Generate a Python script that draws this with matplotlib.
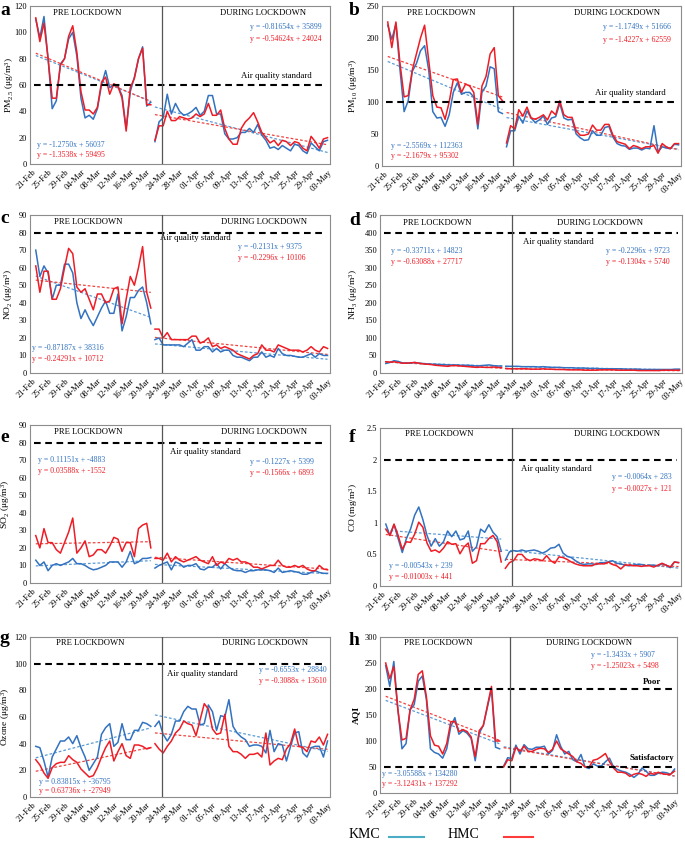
import numpy as np
import matplotlib
matplotlib.use("Agg")
import matplotlib.pyplot as plt
from matplotlib.lines import Line2D
from matplotlib.ticker import FuncFormatter

plt.rcParams['font.family'] = ['Liberation Serif', 'DejaVu Serif']
plt.rcParams['mathtext.fontset'] = 'custom'
plt.rcParams['mathtext.rm'] = 'Liberation Serif'
plt.rcParams['mathtext.it'] = 'Liberation Serif:italic'

# ---------------- data ----------------
tick_labels = ['21-Feb', '25-Feb', '29-Feb', '04-Mar', '08-Mar', '12-Mar', '16-Mar',
               '20-Mar', '24-Mar', '28-Mar', '01-Apr', '05-Apr', '09-Apr', '13-Apr',
               '17-Apr', '21-Apr', '25-Apr', '29-Apr', '03-May']
pre_days = np.arange(1, 30)     # 22-Feb .. 21-Mar (days after 21-Feb)
dur_days = np.arange(30, 73)    # 22-Mar .. 03-May

pm25_kmc_pre = [110, 96, 112, 80, 42, 48, 76, 80, 95, 100, 82, 50, 35, 37, 34, 42, 60, 71, 58, 60,
                59, 52, 27, 55, 66, 80, 89, 44, 47]
pm25_hmc_pre = [111, 93, 107, 80, 50, 50, 75, 80, 97, 105, 85, 55, 41, 41, 38, 43, 62, 66, 53, 61,
                59, 50, 25, 58, 65, 80, 88, 45, 45]
pm25_kmc_dur = [17, 32, 35, 53, 38, 46, 40, 37, 38, 40, 43, 37, 40, 52, 52, 38, 38, 23, 19, 19,
                20, 24, 24, 27, 24, 30, 22, 18, 12, 13, 11, 14, 12, 10, 15, 14, 10, 8, 16, 13,
                10, 17, 18]
pm25_hmc_dur = [18, 29, 29, 40, 33, 33, 36, 35, 34, 35, 38, 36, 38, 46, 37, 37, 41, 27, 19, 15,
                15, 27, 32, 35, 39, 32, 24, 20, 16, 18, 14, 18, 17, 14, 17, 16, 12, 10, 21, 17,
                12, 19, 20]

pm10_kmc_pre = [220, 198, 222, 150, 85, 102, 148, 160, 180, 188, 150, 85, 75, 76, 62, 80, 115, 130,
                112, 115, 115, 108, 58, 115, 125, 155, 152, 85, 82]
pm10_hmc_pre = [225, 185, 225, 160, 108, 110, 150, 175, 200, 220, 165, 110, 92, 91, 73, 100, 135,
                136, 115, 128, 125, 115, 65, 125, 140, 175, 185, 110, 102]
pm10_kmc_dur = [30, 55, 55, 78, 67, 86, 75, 68, 72, 78, 65, 75, 77, 98, 75, 72, 73, 50, 44, 40,
                41, 55, 48, 48, 60, 62, 45, 35, 32, 31, 26, 28, 28, 25, 28, 27, 63, 22, 30, 28,
                27, 34, 33]
pm10_hmc_dur = [36, 63, 58, 88, 78, 92, 75, 73, 76, 80, 72, 86, 80, 102, 80, 76, 76, 55, 48, 48,
                50, 64, 56, 56, 65, 65, 48, 38, 36, 34, 27, 32, 30, 27, 30, 30, 32, 20, 35, 30,
                27, 35, 35]

no2_kmc_pre = [70, 55, 61, 57, 42, 50, 50, 62, 62, 57, 40, 31, 36, 31, 27, 32, 37, 41, 34, 34,
               45, 24, 32, 43, 43, 47, 49, 40, 28]
no2_hmc_pre = [61, 46, 58, 58, 42, 42, 48, 60, 71, 68, 49, 46, 48, 42, 36, 45, 45, 40, 41, 48,
               49, 28, 42, 55, 50, 60, 72, 46, 37]
no2_kmc_dur = [19, 20, 16, 16, 16, 16, 16, 15, 17, 19, 13, 13, 15, 15, 12, 14, 12, 13, 13, 10,
               9, 9, 8, 7, 9, 9, 12, 9, 10, 9, 14, 11, 10, 10, 9.5, 9, 9, 10, 11, 9,
               11, 10, 10]
no2_hmc_dur = [25, 25, 20, 23, 19, 19, 19, 19, 19, 21, 21, 17, 18, 20, 15, 16, 14, 15, 14, 13,
               11, 10, 9, 8, 10, 11, 16, 13, 13, 12, 16, 15, 14, 13, 13, 13, 12, 13, 15, 13,
               12, 15, 14]

nh3_kmc_pre = [27, 30, 35, 33, 29, 28, 28, 30, 28, 27, 26, 25, 25, 24, 24, 23, 23, 23, 22, 22,
               22, 21, 20, 21, 22, 23, 21, 20, 20]
nh3_hmc_pre = [32, 31, 32, 30, 28, 28, 29, 30, 28, 26, 25, 24, 22, 21, 20, 19, 21, 21, 20, 19,
               18, 17, 16, 17, 16, 16, 17, 16, 15]
nh3_kmc_dur = [19, 19, 19, 19, 18, 18, 18, 18, 17, 18, 17, 16, 16, 16, 15, 15, 15, 14, 14, 14,
               13, 13, 13, 12, 12, 12, 12, 12, 12, 11, 11, 11, 11, 10, 10, 10, 10, 10, 10, 10,
               10, 11, 11]
nh3_hmc_dur = [13, 12, 12, 12, 12, 12, 11, 11, 11, 12, 11, 11, 10, 10, 10, 9, 9, 9, 9, 8,
               8, 8, 8, 9, 9, 9, 9, 8, 8, 8, 8, 8, 7, 7, 7, 7, 7, 7, 8, 8,
               8, 8, 8]

so2_kmc_pre = [13, 10, 12, 7, 10, 11, 10, 11, 12, 14, 11, 11, 10, 8.5, 7.5, 8, 9, 10, 12, 12,
               12, 9, 12, 18, 11, 12, 14, 14, 14.5]
so2_hmc_pre = [27, 20, 31, 23, 23, 19, 17, 23, 29, 37, 17, 20, 24, 15, 16, 19, 19, 17, 21, 26,
               25, 18, 23, 23, 15, 31, 33, 34, 20]
so2_kmc_dur = [8.5, 10, 11, 12, 7.5, 12, 11, 9, 10, 10, 11, 8, 7.5, 9, 9, 11, 8, 11, 9, 7.5,
               7, 7, 6, 7, 7, 7.5, 7.5, 7.5, 7, 6, 8.5, 6, 6.5, 7, 6.5, 6, 5, 5, 6, 7,
               6, 5.5, 5.5]
so2_hmc_dur = [14, 14, 13, 17, 12, 15, 13, 12, 13, 14, 15, 13, 12, 11, 15, 10, 12, 11, 14, 13,
               14, 12, 12, 11, 9, 9, 8, 9, 10, 10, 13, 10, 9, 9, 10, 9, 10, 8, 7, 7,
               10, 8, 7.5]

co_kmc_pre = [0.98, 0.80, 0.97, 0.75, 0.53, 0.75, 0.90, 1.12, 1.25, 1.05, 0.80, 0.63, 0.75, 0.63,
              0.70, 0.87, 0.78, 0.87, 0.73, 0.75, 0.87, 0.55, 0.62, 0.90, 0.85, 0.97, 0.85, 0.78, 0.55]
co_hmc_pre = [0.90, 0.80, 0.98, 0.80, 0.58, 0.70, 0.69, 0.82, 1.01, 0.93, 0.68, 0.55, 0.57, 0.53,
              0.60, 0.70, 0.66, 0.67, 0.51, 0.62, 0.68, 0.36, 0.40, 0.67, 0.67, 0.75, 0.80, 0.70, 0.38]
co_kmc_dur = [0.41, 0.54, 0.56, 0.55, 0.57, 0.55, 0.56, 0.57, 0.55, 0.52, 0.55, 0.60, 0.61, 0.66,
              0.52, 0.47, 0.45, 0.40, 0.36, 0.34, 0.35, 0.35, 0.34, 0.37, 0.37, 0.38, 0.40, 0.36,
              0.35, 0.33, 0.32, 0.33, 0.34, 0.34, 0.32, 0.33, 0.33, 0.32, 0.35, 0.33, 0.29, 0.38, 0.37]
co_hmc_dur = [0.28, 0.37, 0.40, 0.50, 0.50, 0.43, 0.40, 0.43, 0.42, 0.40, 0.48, 0.40, 0.36, 0.46,
              0.45, 0.42, 0.38, 0.35, 0.33, 0.32, 0.32, 0.32, 0.35, 0.35, 0.35, 0.38, 0.34, 0.32,
              0.27, 0.33, 0.33, 0.32, 0.32, 0.31, 0.32, 0.32, 0.30, 0.33, 0.36, 0.33, 0.30, 0.38, 0.37]

o3_kmc_pre = [38, 37, 27, 15, 30, 36, 42, 42, 45, 40, 46, 37, 30, 20, 25, 30, 47, 52, 55, 38,
              41, 55, 43, 43, 50, 50, 56, 55, 53]
o3_hmc_pre = [28, 24, 18, 14, 22, 25, 26, 26, 31, 28, 26, 21, 18, 15, 16, 22, 30, 37, 42, 27,
              34, 40, 31, 29, 39, 39, 38, 36, 37]
o3_kmc_dur = [53, 57, 47, 42, 47, 57, 57, 64, 68, 66, 66, 54, 55, 69, 64, 50, 61, 60, 73, 53,
              48, 45, 43, 38, 39, 39, 38, 33, 50, 34, 40, 39, 27, 38, 48, 49, 33, 30, 37, 38,
              38, 30, 42]
o3_hmc_dur = [40, 36, 33, 38, 42, 48, 51, 57, 55, 54, 46, 58, 70, 66, 51, 47, 48, 62, 38, 34,
              34, 32, 29, 32, 32, 33, 30, 48, 24, 27, 29, 28, 36, 40, 51, 38, 37, 34, 42, 41,
              45, 39, 47]

aqi_kmc_pre = [245, 205, 253, 160, 85, 95, 160, 170, 215, 225, 180, 85, 78, 75, 67, 85, 128, 145,
               113, 120, 115, 105, 62, 115, 130, 165, 200, 88, 85]
aqi_hmc_pre = [250, 220, 243, 160, 102, 105, 160, 180, 228, 235, 185, 110, 92, 90, 75, 95, 137,
               138, 118, 122, 118, 108, 70, 120, 130, 168, 205, 100, 100]
aqi_kmc_dur = [52, 68, 66, 92, 75, 93, 85, 84, 88, 88, 90, 75, 82, 112, 90, 75, 80, 64, 60, 74,
               50, 47, 56, 52, 52, 60, 67, 50, 45, 42, 40, 36, 30, 36, 48, 42, 34, 34, 38, 40,
               39, 36, 46]
aqi_hmc_dur = [50, 64, 62, 88, 80, 90, 80, 80, 84, 86, 85, 78, 84, 100, 85, 80, 75, 70, 60, 57,
               50, 50, 63, 65, 70, 76, 60, 48, 40, 40, 38, 32, 36, 38, 36, 32, 38, 36, 40, 37,
               36, 36, 42]

# trend-line equation labels (as printed on the chart)
eq_pm25 = ['y = -1.2750x + 56037', 'y = -1.3538x + 59495', 'y = -0.81654x + 35899', 'y = -0.54624x + 24024']
eq_pm10 = ['y = -2.5569x + 112363', 'y = -2.1679x + 95302', 'y = -1.1749x + 51666', 'y = -1.4227x + 62559']
eq_no2 = ['y = -0.87187x + 38316', 'y = -0.24291x + 10712', 'y = -0.2131x + 9375', 'y = -0.2296x + 10106']
eq_nh3 = ['y = -0.33711x + 14823', 'y = -0.63088x + 27717', 'y = -0.2296x + 9723', 'y = -0.1304x + 5740']
eq_so2 = ['y = 0.11151x + -4883', 'y = 0.03588x + -1552', 'y = -0.1227x + 5399', 'y = -0.1566x + 6893']
eq_co = ['y = -0.00543x + 239', 'y = -0.01003x + 441', 'y = -0.0064x + 283', 'y = -0.0027x + 121']
eq_o3 = ['y = 0.83815x + -36795', 'y = 0.63736x + -27949', 'y = -0.6553x + 28840', 'y = -0.3088x + 13610']
eq_aqi = ['y = -3.05588x + 134280', 'y = -3.12431x + 137292', 'y = -1.3433x + 5907', 'y = -1.25023x + 5498']

# ---------------- style ----------------
BLUE = '#3272c0'
BLUE_T = '#5b9bd5'
RED = '#ee1c25'
RED_T = '#f0443f'
W, H = 685, 842

fig = plt.figure(figsize=(W / 100, H / 100), dpi=100)


def add_ax(l, t, r, b):
    return fig.add_axes([l / W, 1 - b / H, (r - l) / W, (b - t) / H])


def panel(box, letter, letter_xy, series, ymax, ystep, ylabel, ylab_x, stds, eqs, pos):
    ax = add_ax(*box)
    kp, hp, kd, hd = series
    for x, y, c in [(pre_days, kp, BLUE), (pre_days, hp, RED),
                    (dur_days, kd, BLUE), (dur_days, hd, RED)]:
        ax.plot(x, y, color=c, lw=1.1, zorder=3)
    for x, y, c in [(pre_days, kp, BLUE_T), (pre_days, hp, RED_T),
                    (dur_days, kd, BLUE_T), (dur_days, hd, RED_T)]:
        m, b = np.polyfit(x, np.asarray(y, float), 1)
        ax.plot([x[0], x[-1]], [m * x[0] + b, m * x[-1] + b], color=c, lw=0.9,
                ls=(0, (2.2, 1.6)), zorder=2)
    for val, lab, lx, ly, ha, bold in stds:
        ax.axhline(val, xmin=0.012, xmax=0.988, color='black', lw=1.5,
                   ls=(0, (3.2, 2.2)), zorder=4)
        ax.text(lx, ly, lab, transform=ax.transAxes, fontsize=6.3, ha=ha, va='center',
                fontweight='bold' if bold else 'normal', color='black')
    ax.axvline(31.6, color='#555555', lw=0.9, zorder=5)
    ax.set_xlim(-0.4, 72.6)
    ax.set_ylim(0, ymax)
    ax.set_yticks(np.arange(0, ymax + ystep / 2, ystep))
    ax.yaxis.set_major_formatter(FuncFormatter(lambda v, p: '%g' % round(v, 3)))
    ax.set_xticks(np.arange(0, 73, 4))
    ax.set_xticklabels(tick_labels, rotation=45, ha='right', rotation_mode='anchor')
    ax.tick_params(length=0, labelsize=6, pad=2)
    ax.tick_params(axis='x', pad=3)
    for s in ax.spines.values():
        s.set_color('#8c8c8c')
        s.set_linewidth(0.8)
    ax.set_ylabel(ylabel, fontsize=6.8,
                  fontweight='bold' if ylabel == 'AQI' else 'normal')
    ax.yaxis.set_label_coords(ylab_x, 0.5)
    (prex, prey), (durx, dury) = pos['titles']
    ax.text(prex, prey, 'PRE LOCKDOWN', transform=ax.transAxes, fontsize=6.2,
            ha='center', va='center')
    ax.text(durx, dury, 'DURING LOCKDOWN', transform=ax.transAxes, fontsize=6.2,
            ha='center', va='center')
    (px, py1, py2), (dx, dy1, dy2) = pos['pre_eq'], pos['dur_eq']
    ax.text(px, py1, eqs[0], transform=ax.transAxes, fontsize=5.6, color=BLUE, ha='left', va='center')
    ax.text(px, py2, eqs[1], transform=ax.transAxes, fontsize=5.6, color=RED, ha='left', va='center')
    ax.text(dx, dy1, eqs[2], transform=ax.transAxes, fontsize=5.6, color=BLUE, ha='left', va='center')
    ax.text(dx, dy2, eqs[3], transform=ax.transAxes, fontsize=5.6, color=RED, ha='left', va='center')
    fig.text(letter_xy[0] / W, 1 - letter_xy[1] / H, letter, fontsize=14,
             fontweight='bold', ha='left', va='baseline')
    return ax


UNIT = r' (μg/m$^3$)'

panel((30, 6, 330, 164), 'a', (0, 15),
      (pm25_kmc_pre, pm25_hmc_pre, pm25_kmc_dur, pm25_hmc_dur), 120, 20,
      r'PM$_{2.5}$' + UNIT, -0.045,
      [(60, 'Air quality standard', 0.82, 0.557, 'center', False)], eq_pm25,
      {'titles': ((0.19, 0.956), (0.777, 0.956)), 'pre_eq': (0.023, 0.12, 0.057),
       'dur_eq': (0.733, 0.869, 0.789)})

panel((382, 6, 681, 166), 'b', (349, 15),
      (pm10_kmc_pre, pm10_hmc_pre, pm10_kmc_dur, pm10_hmc_dur), 250, 50,
      r'PM$_{10}$' + UNIT, -0.075,
      [(100, 'Air quality standard', 0.83, 0.456, 'center', False)], eq_pm10,
      {'titles': ((0.199, 0.956), (0.785, 0.956)), 'pre_eq': (0.03, 0.125, 0.0625),
       'dur_eq': (0.738, 0.869, 0.7875)})

panel((30, 215, 330, 373), 'c', (0, 223),
      (no2_kmc_pre, no2_hmc_pre, no2_kmc_dur, no2_hmc_dur), 90, 10,
      r'NO$_2$' + UNIT, -0.05,
      [(80, 'Air quality standard', 0.433, 0.852, 'left', False)], eq_no2,
      {'titles': ((0.194, 0.958), (0.78, 0.958)), 'pre_eq': (0.006, 0.156, 0.087),
       'dur_eq': (0.693, 0.80, 0.73)})

panel((380, 215, 682, 373), 'd', (349, 225),
      (nh3_kmc_pre, nh3_hmc_pre, nh3_kmc_dur, nh3_hmc_dur), 450, 50,
      r'NH$_3$' + UNIT, -0.066,
      [(400, 'Air quality standard', 0.474, 0.831, 'left', False)], eq_nh3,
      {'titles': ((0.19, 0.951), (0.73, 0.951)), 'pre_eq': (0.037, 0.774, 0.70),
       'dur_eq': (0.75, 0.774, 0.70)})

panel((30, 425, 330, 583), 'e', (0, 442),
      (so2_kmc_pre, so2_hmc_pre, so2_kmc_dur, so2_hmc_dur), 90, 10,
      r'SO$_2$' + UNIT, -0.06,
      [(80, 'Air quality standard', 0.467, 0.831, 'left', False)], eq_so2,
      {'titles': ((0.194, 0.954), (0.78, 0.954)), 'pre_eq': (0.028, 0.778, 0.711),
       'dur_eq': (0.733, 0.767, 0.697)})

panel((380, 428, 681, 586), 'f', (349, 442),
      (co_kmc_pre, co_hmc_pre, co_kmc_dur, co_hmc_dur), 2.5, 0.5,
      r'CO (mg/m$^3$)', -0.066,
      [(2, 'Air quality standard', 0.467, 0.739, 'left', False)], eq_co,
      {'titles': ((0.197, 0.96), (0.786, 0.96)), 'pre_eq': (0.03, 0.128, 0.059),
       'dur_eq': (0.77, 0.692, 0.612)})

panel((30, 637, 330, 797), 'g', (0, 643),
      (o3_kmc_pre, o3_hmc_pre, o3_kmc_dur, o3_hmc_dur), 120, 20,
      r'Ozone' + UNIT, -0.06,
      [(100, 'Air quality standard', 0.456, 0.769, 'left', False)], eq_o3,
      {'titles': ((0.2, 0.96), (0.785, 0.96)), 'pre_eq': (0.03, 0.092, 0.038),
       'dur_eq': (0.764, 0.794, 0.727)})

panel((380, 637, 677, 793), 'h', (349, 645),
      (aqi_kmc_pre, aqi_hmc_pre, aqi_kmc_dur, aqi_hmc_dur), 300, 50,
      'AQI', -0.067,
      [(200, 'Poor', 0.915, 0.714, 'center', True),
       (50, 'Satisfactory', 0.914, 0.222, 'center', True)], eq_aqi,
      {'titles': ((0.197, 0.96), (0.704, 0.96)), 'pre_eq': (0.007, 0.122, 0.058),
       'dur_eq': (0.71, 0.885, 0.814)})

# legend at the bottom
fig.text(349 / W, 1 - 835 / H, 'KMC', fontsize=10, ha='left', va='center')
fig.text(448 / W, 1 - 835 / H, 'HMC', fontsize=10, ha='left', va='center')
fig.add_artist(Line2D([389 / W, 424 / W], [1 - 837 / H, 1 - 837 / H], color='#4bacc6', lw=1.5))
fig.add_artist(Line2D([504 / W, 533 / W], [1 - 837 / H, 1 - 837 / H], color='#ff3b3b', lw=1.5))

fig.savefig('out.png', dpi=100)
